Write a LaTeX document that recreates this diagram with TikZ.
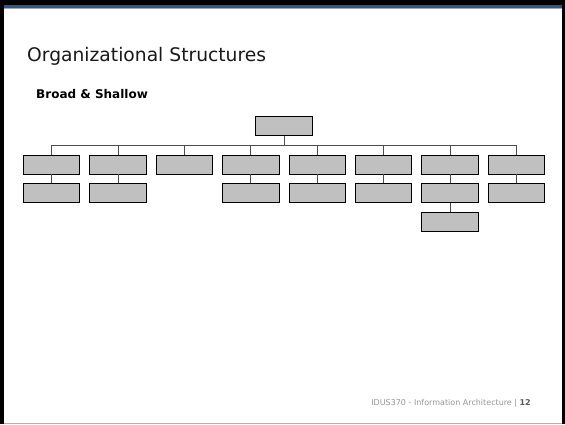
\documentclass[tikz,border=0pt]{standalone}
\usepackage{fontspec}
\setmainfont{DejaVu Sans}
\usetikzlibrary{positioning}
\definecolor{boxgrey}{RGB}{192,192,192}
\definecolor{slideblue}{RGB}{44,88,138}
\definecolor{footgrey}{RGB}{150,150,150}

\begin{document}
\begin{tikzpicture}[x=1pt,y=-1pt,
    box/.style={draw=black,fill=boxgrey,line width=0.8pt,minimum width=56.5pt,minimum height=19pt,inner sep=0pt},
    link/.style={draw=black!70,line width=0.7pt},
    label/.style={inner sep=0pt},
    node distance=9pt and 9.1pt]
	% slide frame
	\fill[black] (0,0) rectangle (565,424);
	\fill[white] (4,5) rectangle (562,423);
	\fill[slideblue] (4,5) rectangle (562,7.5);
	\draw[black!35,line width=0.6pt] (4,8.2) -- (562,8.2);
	\fill[black!30] (4,423) rectangle (562,424);
	% texts
	\node[label,anchor=base west,font=\fontsize{18.7}{22}\selectfont,text=black!90] (title) at (27,61.7) {Organizational Structures};
	\node[label,anchor=base west,font=\bfseries\fontsize{12}{14}\selectfont] (sub) at (36,98.7) {Broad \& Shallow};
	\node[label,anchor=base east,font=\fontsize{8}{10}\selectfont,text=footgrey] (foot) at (531,405.7) {IDUS370 - Information Architecture | \textbf{\textcolor{black!65}{12}}};
	% chart
	\node[box] (top) at (284,126) {};
	\node[box] [below left=18.7pt and 4.55pt of top.south] (d4) {};
	\node[box] [left=of d4] (d3) {};
	\node[box] [left=of d3] (d2) {};
	\node[box] [left=of d2] (d1) {};
	\node[box] [right=of d4] (d5) {};
	\node[box] [right=of d5] (d6) {};
	\node[box] [right=of d6] (d7) {};
	\node[box] [right=of d7] (d8) {};
	\node[box] [below=of d1] (e1) {};
	\node[box] [below=of d2] (e2) {};
	\node[box] [below=of d4] (e4) {};
	\node[box] [below=of d5] (e5) {};
	\node[box] [below=of d6] (e6) {};
	\node[box] [below=of d7] (e7) {};
	\node[box] [below=of d8] (e8) {};
	\node[box] [below=of e7] (f7) {};
	\draw[link] (top.south) -- ++(0,9) coordinate (bus);
	\draw[link] (d1.north) |- (bus) -| (d8.north);
	\draw[link] (d2.north) -- (d2.north |- bus);
	\draw[link] (d3.north) -- (d3.north |- bus);
	\draw[link] (d4.north) -- (d4.north |- bus);
	\draw[link] (d5.north) -- (d5.north |- bus);
	\draw[link] (d6.north) -- (d6.north |- bus);
	\draw[link] (d7.north) -- (d7.north |- bus);
	\path[link]
		(d1) edge (e1)
		(d2) edge (e2)
		(d4) edge (e4)
		(d5) edge (e5)
		(d6) edge (e6)
		(d7) edge (e7)
		(d8) edge (e8)
		(e7) edge (f7);
\end{tikzpicture}
\end{document}
